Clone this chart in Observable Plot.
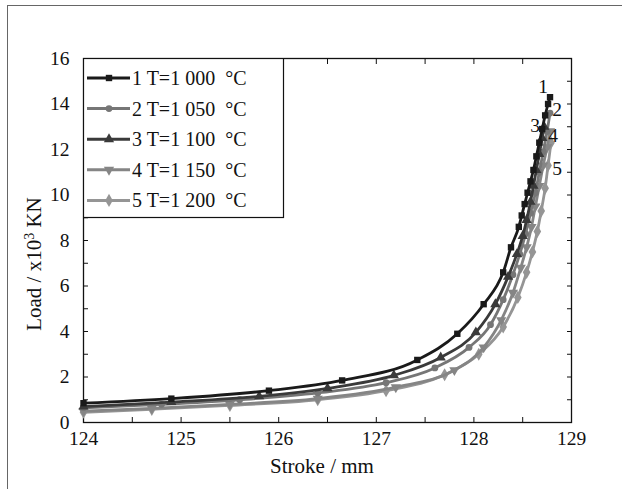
<!DOCTYPE html>
<html>
<head>
<meta charset="utf-8">
<script src="https://cdn.jsdelivr.net/npm/d3@7"></script>
<script src="https://cdn.jsdelivr.net/npm/@observablehq/plot@0.6"></script>
<style>
  html, body { margin: 0; padding: 0; background: #fff; }
  #wrap { position: relative; width: 622px; height: 489px; overflow: hidden; font-family: "Liberation Serif", Tinos, "DejaVu Serif", Times, serif; color: #111; }
  #frame { position: absolute; left: 7px; top: 5px; width: 700px; height: 600px; border-left: 1.5px solid #666; border-top: 1.5px solid #666; }
  #chart { position: absolute; left: 0; top: 0; }
  .lbl { position: absolute; font-size: 21px; white-space: nowrap; }
</style>
</head>
<body>
<div id="wrap">
  <div id="frame"></div>
  <div id="chart"></div>
  <div class="lbl" id="xlabel" style="left:322px; top:466px; transform: translate(-50%,-50%);">Stroke / mm</div>
  <div class="lbl" id="ylabel" style="left:34px; top:264px; transform: translate(-50%,-50%) rotate(-90deg);">Load / x10<sup style="font-size:14px; vertical-align: 7px; line-height:0">3</sup> KN</div>
</div>
<script>
// ---- data ----
const seriesNames = ["1 T=1 000  °C", "2 T=1 050  °C", "3 T=1 100  °C", "4 T=1 150  °C", "5 T=1 200  °C"];
const curveLabels = ["1", "2", "3", "4", "5"];

const stroke1 = [124.0, 124.9, 125.9, 126.65, 127.42, 127.83, 128.1, 128.3, 128.38, 128.46, 128.49, 128.52, 128.55, 128.58, 128.61, 128.64, 128.67, 128.70, 128.73, 128.76, 128.78];
const load1   = [0.85, 1.05, 1.4, 1.85, 2.75, 3.9, 5.2, 6.6, 7.7, 8.6, 9.1, 9.6, 10.1, 10.6, 11.1, 11.7, 12.3, 12.9, 13.5, 14.0, 14.3];

const stroke2 = [124.0, 124.8, 125.6, 126.4, 127.1, 127.6, 127.95, 128.17, 128.3, 128.4, 128.47, 128.53, 128.58, 128.63, 128.67, 128.71, 128.75, 128.78];
const load2   = [0.65, 0.8, 1.0, 1.3, 1.75, 2.4, 3.3, 4.3, 5.4, 6.5, 7.4, 8.3, 9.2, 10.1, 11.0, 11.9, 12.8, 13.6];

const stroke3 = [124.0, 124.9, 125.8, 126.5, 127.18, 127.66, 128.02, 128.22, 128.35, 128.44, 128.5, 128.54, 128.58, 128.61, 128.64, 128.67, 128.7, 128.72];
const load3   = [0.7, 0.9, 1.15, 1.5, 2.07, 2.86, 3.96, 5.2, 6.4, 7.4, 8.2, 8.9, 9.7, 10.4, 11.1, 11.8, 12.5, 13.0];

const stroke4 = [124.0, 124.7, 125.5, 126.4, 127.2, 127.8, 128.1, 128.28, 128.4, 128.48, 128.54, 128.59, 128.63, 128.67, 128.71, 128.75, 128.78];
const load4   = [0.5, 0.62, 0.8, 1.05, 1.55, 2.3, 3.3, 4.5, 5.7, 6.8, 7.7, 8.6, 9.5, 10.4, 11.3, 12.1, 12.8];

const stroke5 = [124.0, 124.7, 125.5, 126.4, 127.1, 127.7, 128.05, 128.3, 128.45, 128.54, 128.6, 128.65, 128.69, 128.73, 128.76, 128.79];
const load5   = [0.45, 0.58, 0.75, 1.0, 1.4, 2.1, 3.0, 4.2, 5.5, 6.6, 7.5, 8.4, 9.3, 10.3, 11.3, 12.3];

const xTickLabels = [124, 125, 126, 127, 128, 129];
const xTicks = [124, 124.5, 125, 125.5, 126, 126.5, 127, 127.5, 128, 128.5, 129];
const yTickLabels = [0, 2, 4, 6, 8, 10, 12, 14, 16];
const yTicks = [0,1,2,3,4,5,6,7,8,9,10,11,12,13,14,15,16];

// ---- styles ----
const FONT = '"Liberation Serif", Tinos, "DejaVu Serif", Times, serif';
const colors = ["#1a1a1a", "#767676", "#3a3a3a", "#858585", "#959595"];
const symbols = ["square", "circle", "triangle", "triangle", "diamond"];
const rotations = [0, 0, 0, 180, 0];
const radii = [3.6, 3.4, 3.8, 3.8, 4.0];
const labelDx = [-7, 7, -9, 3, 6];
const labelDy = [-10, -3, -1, 4, 26];

const strokes = [stroke1, stroke2, stroke3, stroke4, stroke5];
const loads = [load1, load2, load3, load4, load5];
const series = strokes.map((s, i) => s.map((x, j) => ({x, y: loads[i][j], k: i})));

const marks = [
  Plot.frame({stroke: "#111", strokeWidth: 1.3}),
  Plot.axisX({anchor: "bottom", ticks: xTicks, tickSize: -5, tickFormat: () => "", label: null, stroke: "#111"}),
  Plot.axisX({anchor: "top", ticks: xTicks, tickSize: -5, tickFormat: () => "", label: null, stroke: "#111"}),
  Plot.axisX({anchor: "bottom", ticks: xTickLabels, tickSize: 0, tickPadding: 9, tickFormat: d => String(d), label: null, fontSize: 19.5}),
  Plot.axisY({anchor: "left", ticks: yTicks, tickSize: -5, tickFormat: () => "", label: null, stroke: "#111"}),
  Plot.axisY({anchor: "right", ticks: yTicks, tickSize: -5, tickFormat: () => "", label: null, stroke: "#111"}),
  Plot.axisY({anchor: "left", ticks: yTickLabels, tickSize: 0, tickPadding: 14, tickFormat: d => String(d), label: null, fontSize: 19.5})
];

// draw lighter series first, darker on top
[4, 3, 1, 2, 0].forEach(i => {
  marks.push(Plot.line(series[i], {x: "x", y: "y", stroke: colors[i], strokeWidth: 2.8, curve: "monotone-x"}));
  marks.push(Plot.dot(series[i], {x: "x", y: "y", symbol: symbols[i], r: radii[i], fill: colors[i], stroke: "none", rotate: rotations[i]}));
});
series.forEach((s, i) => {
  marks.push(Plot.text([s[s.length - 1]], {x: "x", y: "y", text: () => curveLabels[i], dx: labelDx[i], dy: labelDy[i], fontSize: 19.5, fill: "#111"}));
});

const chart = Plot.plot({
  width: 622, height: 489,
  marginLeft: 83, marginRight: 51, marginTop: 58, marginBottom: 67,
  x: {domain: [124, 129]},
  y: {domain: [0, 16]},
  style: {fontFamily: FONT, fontSize: "19px", color: "#111", background: "transparent", overflow: "visible"},
  marks
});
document.getElementById("chart").appendChild(chart);

// ---- legend (inside the plot's upper-left corner) ----
const lg = d3.select("#wrap").append("svg")
  .attr("width", 210).attr("height", 170)
  .style("position", "absolute").style("left", "83px").style("top", "58px");
lg.append("rect").attr("x", 0.5).attr("y", 0.5).attr("width", 200).attr("height", 159)
  .attr("fill", "#fff").attr("stroke", "#111").attr("stroke-width", 1.2);
const d3sym = {square: d3.symbolSquare, circle: d3.symbolCircle, triangle: d3.symbolTriangle, diamond: d3.symbolDiamond};
seriesNames.forEach((name, i) => {
  const cy = 20 + 30.6 * i;
  const g = lg.append("g").attr("transform", `translate(0,${cy})`);
  g.append("line").attr("x1", 4).attr("x2", 47).attr("y1", 0).attr("y2", 0)
    .attr("stroke", colors[i]).attr("stroke-width", 3);
  g.append("path").attr("d", d3.symbol(d3sym[symbols[i]], Math.PI * radii[i] * radii[i])())
    .attr("transform", `translate(26,0) rotate(${rotations[i]})`).attr("fill", colors[i]);
  g.append("text").attr("x", 49).attr("y", 0).attr("dy", "0.35em")
    .attr("font-family", FONT).attr("font-size", 20)
    .attr("fill", "#111").style("white-space", "pre").text(name);
});
</script>
</body>
</html>
